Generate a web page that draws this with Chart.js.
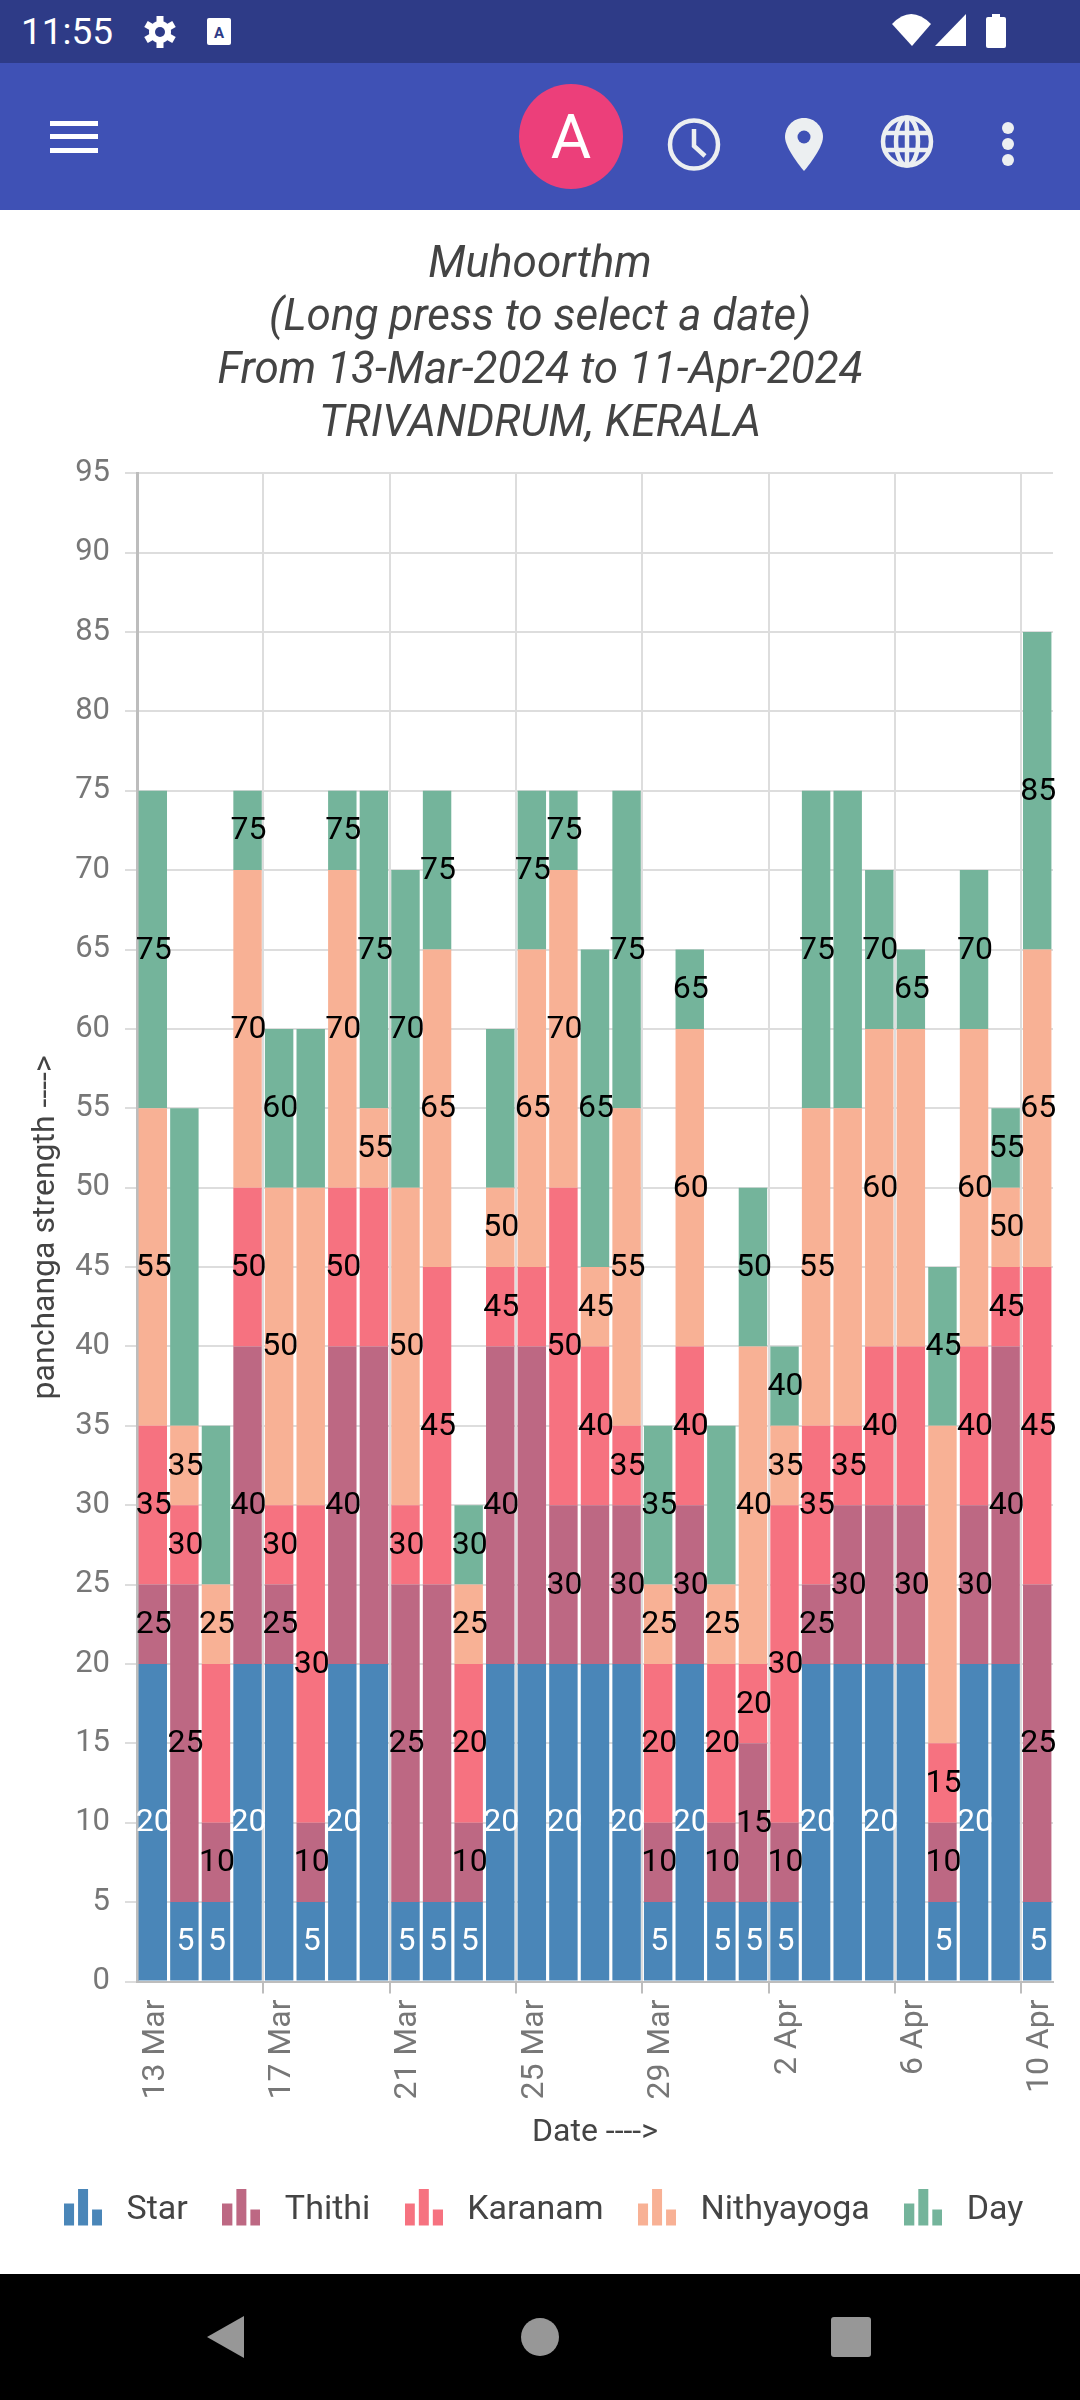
<!DOCTYPE html>
<html>
<head>
<meta charset="utf-8">
<title>Muhoorthm</title>
<script src="https://cdn.jsdelivr.net/npm/chart.js@4"></script>
<style>
    html, body { margin: 0; padding: 0; background: #fff; }
    body { position: relative; width: 1080px; height: 2400px; overflow: hidden; font-family: Roboto, sans-serif; }
    #status-bar { position: absolute; left: 0; top: 0; width: 1080px; height: 63px; background: #2e3b87; }
    #app-bar { position: absolute; left: 0; top: 63px; width: 1080px; height: 147px; background: #3f51b5; }
    #nav-bar { position: absolute; left: 0; top: 2274px; width: 1080px; height: 126px; background: #000; }
    #clock-text { position: absolute; left: 21px; top: 11px; font-size: 37px; line-height: 42px; color: #fff; }
    #avatar { position: absolute; left: 519px; top: 84px; width: 104px; height: 105px; border-radius: 50%; background: #ec3f7a; color: #fff; font-size: 62px; line-height: 105px; text-align: center; }
    #chart-box { position: absolute; left: 0; top: 210px; width: 1080px; height: 2064px; }
    svg { position: absolute; left: 0; top: 0; }
</style>
</head>
<body>
<div id="status-bar"></div>
<div id="app-bar"></div>
<div id="nav-bar"></div>
<div id="clock-text">11:55</div>
<div id="avatar">A</div>

<svg width="1080" height="2400" viewBox="0 0 1080 2400">
    <!-- status icons -->
    <g fill="#fff">
        <circle cx="160" cy="32" r="11"/>
        <g stroke="#fff" stroke-width="7">
            <line x1="160" y1="16" x2="160" y2="48"/>
            <line x1="146" y1="24" x2="174" y2="40"/>
            <line x1="146" y1="40" x2="174" y2="24"/>
        </g>
        <rect x="207" y="18" width="24" height="27" rx="2"/>
        <path d="M892 24 Q911 4 931 24 L912 46 Z"/>
        <path d="M966 14 V46 H935 Z"/>
        <rect x="986" y="17" width="20" height="31" rx="2"/>
        <rect x="992" y="14" width="8" height="4"/>
        <rect x="50" y="121" width="48" height="5"/>
        <rect x="50" y="134" width="48" height="5"/>
        <rect x="50" y="148" width="48" height="5"/>
    </g>
    <circle cx="160" cy="32" r="5" fill="#2e3b87"/>
    <text x="219" y="38" font-family="Roboto" font-size="15" font-weight="700" text-anchor="middle" fill="#2e3b87">A</text>

    <!-- app bar icons -->
    <g fill="none" stroke="#eceff1" stroke-width="4.5">
        <circle cx="694" cy="144.5" r="24"/>
        <path d="M694 129 V146 L705 156"/>
        <circle cx="907" cy="141.5" r="24"/>
        <ellipse cx="907" cy="141.5" rx="11" ry="24"/>
        <line x1="907" y1="117" x2="907" y2="166"/>
        <line x1="884" y1="133" x2="930" y2="133"/>
        <line x1="884" y1="150" x2="930" y2="150"/>
    </g>
    <path d="M804 118 C792 118 785 128 785 137 C785 149 804 171 804 171 C804 171 823 149 823 137 C823 128 816 118 804 118 Z" fill="#eceff1"/>
    <circle cx="804" cy="137" r="6.5" fill="#3f51b5"/>
    <g fill="#eceff1">
        <ellipse cx="1008" cy="128" rx="6" ry="6"/>
        <ellipse cx="1008" cy="144" rx="6" ry="6"/>
        <ellipse cx="1008" cy="160" rx="6" ry="6"/>
    </g>

    <!-- nav bar icons -->
    <g fill="#979797">
        <path d="M244 2316 V2358 L207 2337 Z"/>
        <circle cx="540" cy="2337" r="19"/>
        <rect x="831" y="2317" width="40" height="40" rx="3"/>
    </g>
</svg>

<div id="chart-box"><canvas id="muhoorthamChart" width="1080" height="2064"></canvas></div>

<script>
    const dateLabels = [
        "13 Mar", "14 Mar", "15 Mar", "16 Mar", "17 Mar", "18 Mar", "19 Mar", "20 Mar", "21 Mar", "22 Mar",
        "23 Mar", "24 Mar", "25 Mar", "26 Mar", "27 Mar", "28 Mar", "29 Mar", "30 Mar", "31 Mar", "1 Apr",
        "2 Apr", "3 Apr", "4 Apr", "5 Apr", "6 Apr", "7 Apr", "8 Apr", "9 Apr", "10 Apr"
    ];

    const starValues = [20, 5, 5, 20, 20, 5, 20, 20, 5, 5, 5, 20, 20, 20, 20, 20, 5, 20, 5, 5, 5, 20, 20, 20, 20, 5, 20, 20, 5];
    const thithiValues = [5, 20, 5, 20, 5, 5, 20, 20, 20, 20, 5, 20, 20, 10, 10, 10, 5, 10, 5, 10, 5, 5, 10, 10, 10, 5, 10, 20, 20];
    const karanamValues = [10, 5, 10, 10, 5, 20, 10, 10, 5, 20, 10, 5, 5, 20, 10, 5, 10, 10, 10, 5, 20, 10, 5, 10, 10, 5, 10, 5, 20];
    const nithyayogaValues = [20, 5, 5, 20, 20, 20, 20, 5, 20, 20, 5, 5, 20, 20, 5, 20, 5, 20, 5, 20, 5, 20, 20, 20, 20, 20, 20, 5, 20];
    const dayValues = [20, 20, 10, 5, 10, 10, 5, 20, 20, 10, 5, 10, 10, 5, 20, 20, 10, 5, 10, 10, 5, 20, 20, 10, 5, 10, 10, 5, 20];

    // bars whose running total label is not shown in the app
    const starHidden = [4, 7, 12, 14, 22, 24, 27];
    const thithiHidden = [7, 9, 12, 14, 23];
    const karanamHidden = [2, 7, 12, 24];
    const nithyayogaHidden = [5, 22, 24, 25];
    const dayHidden = [1, 2, 5, 11, 18, 22];

    const seriesNames = ["Star", "Thithi", "Karanam", "Nithyayoga", "Day"];
    const seriesColors = ["#4a86b8", "#bd6883", "#f67280", "#f8b195", "#74b49b"];
    const yTicksMax = 95;
    const yTicksStep = 5;
    const titleLines = ["Muhoorthm", "(Long press to select a date)", "From 13-Mar-2024 to 11-Apr-2024", "TRIVANDRUM, KERALA"];

    const allValues = [starValues, thithiValues, karanamValues, nithyayogaValues, dayValues];
    const allHidden = [starHidden, thithiHidden, karanamHidden, nithyayogaHidden, dayHidden];

    // small three bar icon used in the legend, blank strip at the bottom lifts it a little
    function legendIcon(color) {
        const icon = document.createElement("canvas");
        icon.width = 38;
        icon.height = 43;
        const c = icon.getContext("2d");
        c.fillStyle = color;
        c.fillRect(0, 15, 10, 22);
        c.fillRect(14, 0, 10, 37);
        c.fillRect(28, 21, 10, 16);
        return icon;
    }

    // draws the running total in the middle of each segment
    const stackLabels = {
        id: "stackLabels",
        afterDatasetsDraw(chart) {
            const ctx = chart.ctx;
            ctx.save();
            ctx.font = "32px Roboto";
            ctx.textAlign = "center";
            ctx.textBaseline = "middle";
            chart.data.datasets.forEach((dataset, d) => {
                ctx.fillStyle = d === 0 ? "#fff" : "#000";
                chart.getDatasetMeta(d).data.forEach((bar, i) => {
                    if (allHidden[d].includes(i)) return;
                    let total = 0;
                    for (let k = 0; k <= d; k++) total += allValues[k][i];
                    const p = bar.getCenterPoint();
                    ctx.fillText(String(total), p.x + 1, p.y + 1);
                });
            });
            ctx.restore();
        }
    };

    new Chart(document.getElementById("muhoorthamChart"), {
        type: "bar",
        plugins: [stackLabels],
        data: {
            labels: dateLabels,
            datasets: seriesNames.map((name, d) => ({
                label: name,
                data: allValues[d],
                backgroundColor: seriesColors[d],
                pointStyle: legendIcon(seriesColors[d]),
                barPercentage: 0.9,
                categoryPercentage: 1
            }))
        },
        options: {
            responsive: false,
            animation: false,
            layout: { padding: { top: 0, right: 0, bottom: 37, left: 0 } },
            plugins: {
                title: {
                    display: true,
                    text: titleLines,
                    color: "#444",
                    font: { family: "Roboto", size: 44, style: "italic", weight: "normal", lineHeight: 1.2 },
                    padding: { top: 30, bottom: 22 }
                },
                legend: {
                    position: "bottom",
                    labels: {
                        usePointStyle: true,
                        pointStyleWidth: 53,
                        color: "#444",
                        padding: 27,
                        font: { family: "Roboto", size: 34 }
                    }
                },
                tooltip: { enabled: false }
            },
            scales: {
                x: {
                    stacked: true,
                    title: { display: true, text: "Date ---->", color: "#444", font: { family: "Roboto", size: 32 }, padding: { top: 8, bottom: 14 } },
                    border: { color: "#bdbdbd", width: 2 },
                    grid: {
                        offset: true,
                        lineWidth: 2,
                        tickLength: 12,
                        color: c => (c.index % 4 === 0 || c.index === dateLabels.length) ? "#dddddd" : "transparent",
                        tickColor: c => (c.index % 4 === 0 && c.index > 0 && c.index < dateLabels.length) ? "#bdbdbd" : "transparent"
                    },
                    ticks: {
                        autoSkip: false,
                        minRotation: 90,
                        maxRotation: 90,
                        padding: 6,
                        labelOffset: 3,
                        color: "#777",
                        font: { family: "Roboto", size: 32 },
                        callback: function (value, index) {
                            return index % 4 === 0 ? dateLabels[index] : "";
                        }
                    },
                    afterFit: function (scale) { scale.paddingRight = 27; }
                },
                y: {
                    stacked: true,
                    min: 0,
                    max: yTicksMax,
                    title: { display: true, text: "panchanga strength ---->", color: "#444", font: { family: "Roboto", size: 32 }, padding: { top: 27, bottom: 2 } },
                    border: { color: "#bdbdbd", width: 3 },
                    grid: { lineWidth: 2, color: "#dddddd", tickLength: 12, tickColor: "#dddddd" },
                    ticks: {
                        stepSize: yTicksStep,
                        padding: 15,
                        color: "#777",
                        font: { family: "Roboto", size: 31 }
                    },
                    afterFit: function (scale) { scale.width = 137; }
                }
            }
        }
    });
</script>
</body>
</html>
